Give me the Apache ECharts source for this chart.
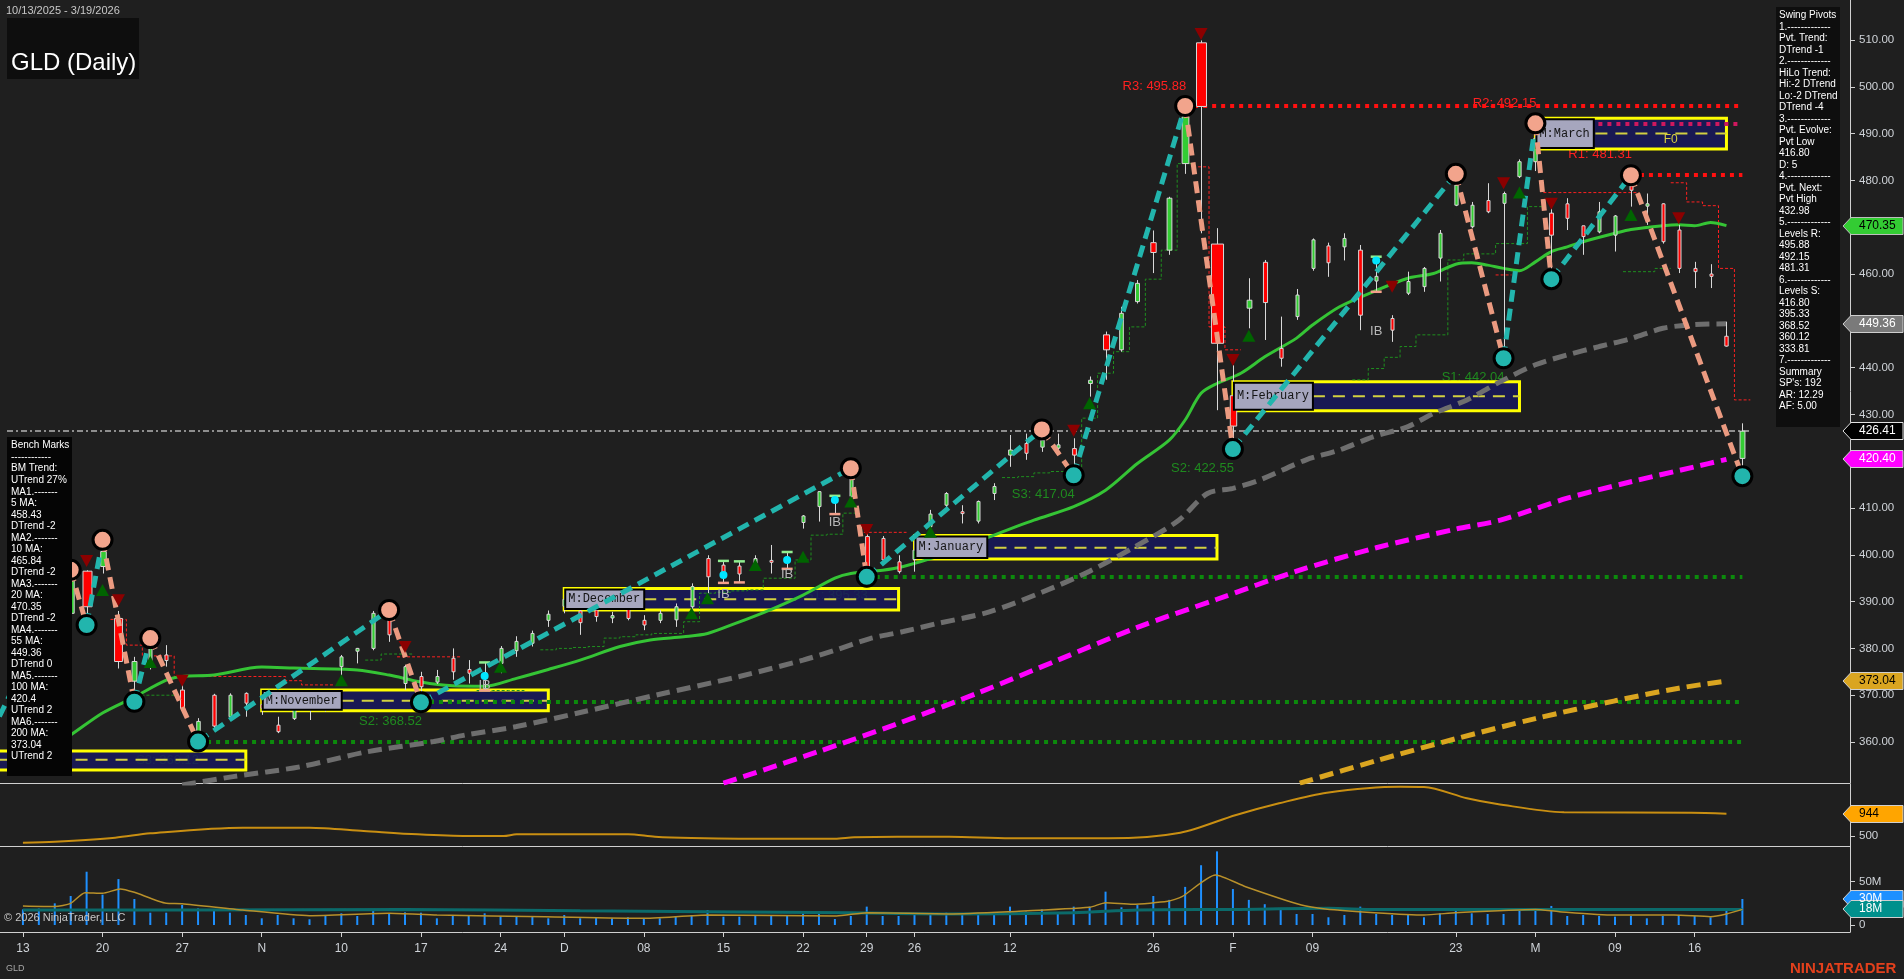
<!DOCTYPE html>
<html>
<head>
<meta charset="utf-8">
<title>GLD (Daily)</title>
<script src="https://cdn.jsdelivr.net/npm/echarts@6.0.0/dist/echarts.min.js"></script>
<style>
html,body{margin:0;padding:0;background:#1f1f1f;overflow:hidden;}
#chart{width:1904px;height:979px;}
</style>
</head>
<body>
<div id="chart"></div>
<script>
// ================= DATA =================
const dates = ['2025-10-13','2025-10-14','2025-10-15','2025-10-16','2025-10-17','2025-10-20','2025-10-21','2025-10-22','2025-10-23','2025-10-24','2025-10-27','2025-10-28','2025-10-29','2025-10-30','2025-10-31','2025-11-03','2025-11-04','2025-11-05','2025-11-06','2025-11-07','2025-11-10','2025-11-11','2025-11-12','2025-11-13','2025-11-14','2025-11-17','2025-11-18','2025-11-19','2025-11-20','2025-11-21','2025-11-24','2025-11-25','2025-11-26','2025-11-28','2025-12-01','2025-12-02','2025-12-03','2025-12-04','2025-12-05','2025-12-08','2025-12-09','2025-12-10','2025-12-11','2025-12-12','2025-12-15','2025-12-16','2025-12-17','2025-12-18','2025-12-19','2025-12-22','2025-12-23','2025-12-24','2025-12-26','2025-12-29','2025-12-30','2025-12-31','2026-01-02','2026-01-05','2026-01-06','2026-01-07','2026-01-08','2026-01-09','2026-01-12','2026-01-13','2026-01-14','2026-01-15','2026-01-16','2026-01-20','2026-01-21','2026-01-22','2026-01-23','2026-01-26','2026-01-27','2026-01-28','2026-01-29','2026-01-30','2026-02-02','2026-02-03','2026-02-04','2026-02-05','2026-02-06','2026-02-09','2026-02-10','2026-02-11','2026-02-12','2026-02-13','2026-02-17','2026-02-18','2026-02-19','2026-02-20','2026-02-23','2026-02-24','2026-02-25','2026-02-26','2026-02-27','2026-03-02','2026-03-03','2026-03-04','2026-03-05','2026-03-06','2026-03-09','2026-03-10','2026-03-11','2026-03-12','2026-03-13','2026-03-16','2026-03-17','2026-03-18','2026-03-19'];

const openP = [370.5,377.0,380.0,387.5,396.5,397.5,386.4,373.0,376.5,378.6,
371.1,362.2,370.0,365.4,370.4,368.0,363.6,365.0,367.0,368.5,
376.1,379.4,380.0,386.4,372.5,374.0,372.8,377.9,375.5,374.8,
376.8,379.5,381.1,386.0,389.0,388.0,388.2,386.5,388.9,386.0,
386.0,386.1,388.9,399.2,397.8,397.6,398.2,398.8,399.5,406.9,
410.3,411.8,412.5,403.9,403.5,398.5,399.0,406.0,410.6,409.2,
407.2,413.1,421.3,423.8,423.0,422.8,422.7,436.6,447.0,443.8,
454.1,466.7,465.1,483.6,509.4,466.4,434.0,452.7,462.5,444.1,
450.9,461.2,466.0,465.8,465.1,458.5,450.5,455.9,457.3,463.4,
474.7,470.1,475.7,475.1,480.8,484.0,473.0,475.0,470.3,469.0,
468.3,478.8,474.5,475.0,469.4,461.2,460.0,446.7,420.6];
const highP = [375.5,381.0,385.0,396.8,396.7,403.2,388.0,378.2,382.2,380.7,
372.5,365.1,370.3,370.4,370.6,370.5,365.4,369.0,370.0,370.0,
378.6,380.1,388.0,388.2,376.5,375.0,375.4,380.0,377.5,377.0,
380.5,382.6,383.8,388.1,391.5,389.5,388.9,387.8,389.6,387.1,
388.2,389.6,393.9,399.9,398.7,398.6,399.9,402.1,400.6,408.5,
413.5,412.6,418.5,404.5,404.0,399.9,403.0,409.6,413.4,410.6,
411.6,415.3,425.6,425.9,426.8,425.9,424.9,438.1,447.7,453.0,
458.7,469.3,476.5,495.9,509.9,469.8,440.5,459.1,463.0,450.9,
456.8,467.6,466.7,468.7,466.2,463.7,451.2,460.5,461.5,469.4,
481.4,475.4,479.4,477.6,484.5,492.2,474.5,476.2,470.3,475.4,
472.6,481.1,477.2,475.1,470.5,462.6,462.1,449.8,428.1];
const lowP = [369.5,373.0,378.5,386.5,385.0,396.0,375.7,368.6,375.5,376.1,
366.8,360.1,362.9,364.7,365.4,365.8,361.9,364.7,364.7,366.5,
373.6,376.8,379.6,381.4,371.1,368.5,372.4,373.3,372.5,371.0,
374.7,378.2,380.4,384.6,387.5,382.9,385.7,385.4,386.0,383.9,
385.4,384.6,387.5,391.8,394.0,394.1,397.5,396.0,397.0,405.6,
407.1,408.7,411.5,395.3,398.5,396.0,396.4,404.9,410.2,406.7,
406.7,411.7,418.8,420.3,422.0,422.4,417.0,433.8,437.4,443.4,
453.7,460.2,464.1,481.4,468.7,430.9,422.6,448.4,445.9,440.2,
450.2,460.7,459.4,462.9,448.0,456.2,445.5,455.5,456.2,458.4,
474.5,469.8,473.0,442.0,480.5,482.0,458.9,469.4,464.1,468.7,
464.8,474.4,470.5,466.5,460.2,457.0,457.0,444.5,416.8];
const closeP = [375.0,378.5,384.5,395.5,388.9,400.7,377.2,377.2,380.5,377.4,
367.2,364.4,363.4,370.0,368.3,367.2,362.2,367.8,369.3,369.3,
378.2,380.0,387.5,382.9,376.1,371.8,374.0,375.0,374.7,374.0,
380.0,381.5,383.2,387.3,390.5,385.5,386.8,387.0,386.4,385.0,
387.5,388.9,393.2,395.3,395.7,395.9,399.2,398.4,398.5,408.3,
413.5,411.2,417.0,396.0,398.9,396.4,401.0,408.7,413.1,408.8,
411.4,414.6,422.4,421.7,424.5,423.5,421.3,437.3,443.8,451.6,
458.0,464.6,476.2,493.6,495.8,445.2,427.5,454.4,453.9,442.0,
455.5,467.3,462.4,467.6,451.2,459.5,448.0,458.4,461.2,468.7,
479.0,474.7,473.3,477.2,484.0,489.0,468.3,471.9,468.0,473.3,
472.4,477.9,475.0,466.9,461.2,460.5,459.5,444.6,426.41];
// volume in millions of shares
const volume = [18,19,25,33.5,61.5,35,53,30,14.2,14.2,
23.1,19.2,18.1,14.2,11.5,7.7,11.5,7.7,6.6,10.4,
13.5,10.4,16.6,13.5,14.6,14.2,7.7,10.4,10.4,13.5,
10.4,10.4,10.4,7.7,11.5,7.7,8.9,7.7,8.9,6.9,
7.7,10.4,11.5,17.3,9.6,9.6,10.4,10.4,11.5,13.5,
14.2,6.9,10.4,21.2,10.4,10.4,13.5,13.5,14.2,11.5,
11.5,13.5,21.2,15.4,18,14.2,21.2,21.2,38.5,20.4,
23,33.5,29,44,69,85,41.5,29,24,17.3,
12.7,12.7,8.9,11.5,21.2,12.7,11.5,11.5,8.9,13.5,
17.3,13.5,12.7,12.7,17.3,18,22,10.4,11.5,10.4,
9.6,10.4,7.7,10.4,11.5,10.4,8.9,18,30];

// moving averages: [bar, value]
const ma20 = [[0,355],[1,357],[2,359.5],[3,361.5],[5,366.2],[7,369.6],[9,373.2],[10,374],[12,374.3],[15,376],[17,375.8],[21,375.4],[23,374.3],[25,372.8],[27,372],[29,371.9],[31,373.6],[33,375.5],[35,377.5],[37.5,380.4],[39.4,381.8],[41.5,382.5],[43,383.2],[44.8,385.4],[46.9,388.2],[49,391.4],[51,395],[52,396],[54,396.7],[55.3,397.5],[57.4,399.6],[59.9,402.8],[63.5,407.4],[66,410.3],[68,413.8],[70,419.5],[72,424.5],[73,428.8],[74,434.5],[75,436.6],[76.5,438.8],[78,442.3],[80,446.3],[81,449.1],[82.7,453],[84.8,456.2],[87,459.1],[88.6,460.1],[90,462.1],[91,462.4],[92,461.9],[93,461.2],[94,460.7],[95,462.6],[96,464.8],[97,465.8],[98,466.9],[100,468.7],[101,469.5],[103,470.3],[104,470.5],[105,470.3],[106,471],[107,470.35]];
const ma55 = [[10,350.8],[13.2,352.6],[17.4,354.7],[21.6,357.9],[25.8,360.1],[27.8,361.5],[31,363.3],[35,366.3],[40,370.2],[45,374.0],[49,377.5],[51,379.6],[53.2,382.1],[55.3,383.6],[57.4,385.3],[60.7,387.8],[64,392],[67,396.5],[70,402],[72.6,407.4],[74.4,413.1],[76,414.2],[77.7,416],[80.6,420.3],[82.7,422.4],[84.8,425.2],[87,427.4],[88.6,430.2],[90.7,433.1],[92.8,437],[95,440.6],[97,442.7],[99,444.5],[101,446.2],[103,448.4],[105,449.2],[107,449.36]];
const ma100 = [[44,351.2],[50,358],[55,364],[60,370.5],[65,377.5],[70,384.5],[75,390.5],[80,396.5],[85,401.5],[90,405.5],[92.8,407.4],[97,412.1],[101,415.6],[105,418.8],[107,420.40]];
const ma200 = [[80.2,351.2],[85,356],[90,360.7],[95,365],[100,368.8],[104,371.5],[107,373.04]];

// lower indicator panel
const indicator = [[0,367],[2,387],[5.8,466],[8,553],[13.8,665],[18,665],[21.4,600],[24.8,533],[27.9,500],[30.2,500],[31,533],[38,533],[39.7,487],[42,460],[45,447],[51,447],[52.2,474],[54.9,487],[58.2,487],[62,454],[68.2,454],[72.7,566],[76.2,918],[78.9,1151],[81.9,1362],[86.5,1481],[88,1475],[90.7,1250],[92.6,1137],[96.8,972],[104.8,964],[107,944]];
// volume averages
const volAvgFast = [[0,21.9],[2,21.2],[3,25],[3.9,37.3],[5,36.6],[6.1,41.6],[7,37.7],[9,25],[10,24.6],[13.8,17.3],[18,10.8],[23,13.5],[26,11.5],[32.8,9.6],[38.9,7.7],[43.1,11.5],[51.1,10.4],[53,14.2],[58.2,12.7],[62,15.4],[67,20.4],[68,25.8],[69.7,24],[71.9,27.3],[72.8,32.7],[74.9,57.7],[76.8,44.2],[80.3,23],[81.8,18.5],[84.9,14.2],[88,11.5],[90,14.2],[95,18],[96.5,15.4],[99.9,11.5],[103.7,11.5],[106,9.6],[107,12.7],[108,18]];
const volAvgSlow = [[0,17.3],[10,17.3],[24,18],[35,16.5],[43,15.4],[52,14],[58,12.7],[66,14.2],[70,17.3],[76,18],[82,19.2],[85,18],[96,18],[108,18]];

// swing pivots (zigzag)
const pivotBars   = [-2,3,4,5,7,8,11,23,25,52,53,64,66,73,76,90,93,95,96,101,108];
const pivotPrices = [361.8,396.8,385.0,403.2,368.6,382.2,360.1,388.2,368.5,418.5,395.3,426.8,417.0,495.9,422.6,481.4,442.0,492.2,458.9,481.1,416.8];

// support / resistance levels
const levelNames  = ['R3','R2','R1','S1','S2','S3','S1','S2','S3'];
const levelBars   = [73,95,101,93,76,66,53,25,11];
const levelValues = [495.88,492.15,481.31,442.04,422.55,417.04,395.33,368.52,360.12];
const levelLineEnd= [108,108,108,null,null,null,108,108,108];

// monthly boxes
const boxNames  = ['M:October','M:November','M:December','M:January','M:February','M:March'];
const boxStart  = [-8,15,34,56,76,95];
const boxEnd    = [14,33,55,75,94,107];
const boxTop    = [358.1,371.1,392.8,404.1,437.0,493.3];
const boxBottom = [354.0,366.7,388.2,399.1,430.8,486.7];
const boxMid    = [356.2,368.8,390.5,401.5,433.9,490.0];

// trailing stop steps [bar, value]
const greenStop = [[7,370],[8,370],[9,370],[22,377.5],[23,378.8],[24,378.8],[29,371],[30,371],[31,371],[33,379.7],[34,380],[35,380.2],[36,380.4],[37,382.2],[38,382.5],[39,382.9],[40,383.2],[41,383.2],[42,385.7],[43,391.8],[44,392],[45,392.3],[46,392.5],[47,395],[48,395],[49,398.9],[50,404.2],[51,404.4],[52,408.9],[62,416.5],[63,416.7],[64,417.5],[65,417.8],[66,417.8],[67,429.2],[68,438.8],[69,443.4],[70,448.7],[71,458.9],[72,465.1],[73,483.6],[84,437.4],[85,439.8],[86,442.2],[87,444.5],[88,447],[89,447],[90,463],[91,464.3],[92,464.3],[93,466.5],[94,466.5],[95,474.4],[101,460.5],[102,460.5],[103,461.2]];
const redStop = [[6,386.2],[7,380.7],[8,378.4],[9,378.4],[10,374],[11,374],[12,374],[13,374],[14,374],[15,374],[16,374],[17,373.1],[18,372.2],[19,372.2],[24,378.2],[25,378.2],[26,378.2],[27,378.2],[53,404.8],[54,404.8],[55,404.8],[74,482.9],[75,448.7],[76,443.8],[93,459.8],[96,477.4],[97,477.4],[98,477.4],[99,477.4],[100,477.4],[101,477.4],[104,479.5],[105,475.4],[106,474.6],[107,461.2],[108,433.1]];

// signal markers [bar, price]
const downMarks = [[4,398.7],[6,390.3],[10,373.1],[24,380.3],[53,405.3],[66,426.5],[74,511.3],[76,441.6],[86,457.3],[93,479.4],[96,475.0],[104,471.9]];
const upMarks = [[5,392.5],[8,377.1],[20,373.2],[30,376.1],[42,387.5],[43,390.7],[46,397.8],[49,399.6],[52,411.4],[57,404.9],[67,432.4],[77,446.8],[94,477.4],[101,472.6]];
const ibBars = [29,44,48,51,85];
const ibDot  = [374.1,395.7,398.9,411.7,462.9];
const ibText = [372.0,391.6,395.9,406.9,447.8];
const capBars = [29,44,45,48,51,85];

// axis ticks
const tickBars   = [0,5,10,15,20,25,30,34,39,44,49,53,56,62,71,76,81,90,95,100,105];
const tickLabels = ['13','20','27','N','10','17','24','D','08','15','22','29','26','12','26','F','09','23','M','09','16'];
const priceTicks = [360,370,380,390,400,410,430,440,460,480,490,500,510];

const swingLines = ['Swing Pivots','1.-------------','Pvt. Trend:','DTrend -1','2.-------------','HiLo Trend:','Hi:-2 DTrend','Lo:-2 DTrend','DTrend -4','3.-------------','Pvt. Evolve:','Pvt Low','416.80','D: 5','4.-------------','Pvt. Next:','Pvt High','432.98','5.-------------','Levels R:','495.88','492.15','481.31','6.-------------','Levels S:','416.80','395.33','368.52','360.12','333.81','7.-------------','Summary',"SP's: 192",'AR: 12.29','AF: 5.00'];
const benchLines = ['Bench Marks','------------','BM Trend:','UTrend 27%','MA1.-------','5 MA:','458.43','DTrend -2','MA2.-------','10 MA:','465.84','DTrend -2','MA3.-------','20 MA:','470.35','DTrend -2','MA4.-------','55 MA:','449.36','DTrend 0','MA5.-------','100 MA:','420.4','UTrend 2','MA6.-------','200 MA:','373.04','UTrend 2'];

// ================= CHART =================
const XMIN = -1.44, XMAX = 114.76;
const FONT = '"Liberation Sans", Arial, sans-serif';
const TEAL = '#22b5ad', SALMON = '#eb9a80';
const chart = echarts.init(document.getElementById('chart'), null, {renderer: 'canvas'});

function xAx(g, withLabels) {
  return {
    type: 'value', gridIndex: g, min: XMIN, max: XMAX,
    axisLine: {show: true, onZero: false, lineStyle: {color: '#d0d0d0', width: 1}},
    axisTick: withLabels ? {show: true, customValues: tickBars, length: 5, lineStyle: {color: '#d0d0d0'}} : {show: false},
    axisLabel: withLabels ? {show: true, customValues: tickBars, margin: 11, color: '#cfd3d8', fontSize: 12, fontFamily: FONT,
      formatter: v => { const k = tickBars.indexOf(Math.round(v)); return k >= 0 ? tickLabels[k] : ''; }} : {show: false},
    splitLine: {show: false}
  };
}
function yAx(g, min, max, ticks, fmt) {
  return {
    type: 'value', gridIndex: g, position: 'right', min: min, max: max,
    axisLine: {show: true, onZero: false, lineStyle: {color: '#d0d0d0', width: 1}},
    axisTick: {show: true, customValues: ticks, length: 5, lineStyle: {color: '#d0d0d0'}},
    axisLabel: {show: true, customValues: ticks, margin: 9, color: '#cfd3d8', fontSize: 11.5, fontFamily: FONT, formatter: fmt},
    splitLine: {show: false}
  };
}

function stepRuns(pairs) {
  const runs = []; let cur = null;
  pairs.forEach((p, k) => {
    const b = p[0], v = p[1];
    if (cur && b === pairs[k - 1][0] + 1) { cur.push([b - 0.5, v]); cur.push([b + 0.5, v]); }
    else { cur = [[b - 0.5, v], [b + 0.5, v]]; runs.push(cur); }
  });
  return runs.map(r => ({coords: r}));
}

const candleData = dates.map((d, i) => [i, openP[i], highP[i], lowP[i], closeP[i], volume[i]]);

const zigData = [];
for (let k = 0; k < pivotBars.length - 1; k++) {
  zigData.push({coords: [[pivotBars[k], pivotPrices[k]], [pivotBars[k + 1], pivotPrices[k + 1]]],
    lineStyle: {color: pivotPrices[k + 1] > pivotPrices[k] ? TEAL : SALMON}});
}
const pivotDots = [];
for (let k = 1; k < pivotBars.length; k++) {
  const high = pivotPrices[k] > pivotPrices[k - 1];
  pivotDots.push({value: [pivotBars[k], pivotPrices[k]], itemStyle: {color: high ? '#f2a48c' : TEAL}});
}

const levelLines = [];
levelNames.forEach((n, i) => {
  if (levelLineEnd[i] == null) return;
  let col = n[0] === 'R' ? '#ff1010' : '#0c8a0c';
  if (n === 'R2') col = '#d0185e';
  levelLines.push({coords: [[levelBars[i], levelValues[i]], [levelLineEnd[i], levelValues[i]]], lineStyle: {color: col}});
});

const boxData = boxNames.map((n, i) => [boxStart[i], boxEnd[i], boxTop[i], boxBottom[i], boxMid[i]]);

const option = {
  backgroundColor: '#1f1f1f',
  animation: false,
  grid: [
    {left: 0, right: 54, top: 0, height: 783},
    {left: 0, right: 54, top: 784, height: 62},
    {left: 0, right: 54, top: 846, height: 86}
  ],
  xAxis: [xAx(0, false), xAx(1, false), xAx(2, true)],
  yAxis: [
    yAx(0, 351.24, 518.55, priceTicks, v => v.toFixed(2)),
    yAx(1, 301, 1534.8, [500], v => String(v)),
    yAx(2, -8.1, 91.2, [0, 50], v => v === 0 ? '0' : v + 'M')
  ],
  series: [
    // level text (under boxes)
    {type: 'custom', name: 'levelText', xAxisIndex: 0, yAxisIndex: 0, z: 1, clip: true,
      data: levelNames.map((n, i) => [levelBars[i], levelValues[i], i]),
      renderItem: (params, api) => {
        const i = api.value(2);
        const p = api.coord([api.value(0), api.value(1)]);
        const isR = levelNames[i][0] === 'R';
        return {type: 'text', x: p[0] + 1, y: p[1] + (isR ? -20 : 19),
          style: {text: levelNames[i] + ': ' + levelValues[i].toFixed(2), fill: isR ? '#ff2020' : '#1f8a1f',
            font: '13px ' + FONT, align: 'right', verticalAlign: 'middle'}};
      }},
    // month boxes
    {type: 'custom', name: 'boxes', xAxisIndex: 0, yAxisIndex: 0, z: 2, clip: true, data: boxData,
      renderItem: (params, api) => {
        const a = api.coord([api.value(0), api.value(2)]);
        const b = api.coord([api.value(1), api.value(3)]);
        const m = api.coord([api.value(0), api.value(4)]);
        return {type: 'group', children: [
          {type: 'rect', shape: {x: a[0], y: a[1], width: b[0] - a[0], height: b[1] - a[1]},
            style: {fill: 'rgba(24,24,92,0.86)', stroke: '#ffff00', lineWidth: 3}},
          {type: 'line', shape: {x1: a[0], y1: m[1], x2: b[0], y2: m[1]},
            style: {stroke: '#d2d040', lineWidth: 2, lineDash: [12, 8]}}
        ]};
      }},
    // moving averages
    {type: 'line', name: 'MA55', xAxisIndex: 0, yAxisIndex: 0, z: 3, data: ma55, showSymbol: false, smooth: 0.3,
      lineStyle: {color: '#6e6e6e', width: 5, type: [14, 7]}},
    {type: 'line', name: 'MA100', xAxisIndex: 0, yAxisIndex: 0, z: 3, data: ma100, showSymbol: false, smooth: 0.3,
      lineStyle: {color: '#ff00ff', width: 5, type: [14, 7]}},
    {type: 'line', name: 'MA200', xAxisIndex: 0, yAxisIndex: 0, z: 3, data: ma200, showSymbol: false, smooth: 0.3,
      lineStyle: {color: '#daa520', width: 5, type: [14, 7]}},
    {type: 'line', name: 'MA20', xAxisIndex: 0, yAxisIndex: 0, z: 3, data: ma20, showSymbol: false, smooth: 0.3,
      lineStyle: {color: '#35c435', width: 3}},
    // trailing stops
    {type: 'lines', name: 'greenStop', coordinateSystem: 'cartesian2d', xAxisIndex: 0, yAxisIndex: 0, z: 3, polyline: true,
      data: stepRuns(greenStop), lineStyle: {color: '#1f8f1f', width: 1, type: [3, 2], opacity: 1}},
    {type: 'lines', name: 'redStop', coordinateSystem: 'cartesian2d', xAxisIndex: 0, yAxisIndex: 0, z: 3, polyline: true,
      data: stepRuns(redStop), lineStyle: {color: '#ff2020', width: 1, type: [3, 2], opacity: 1}},
    // level lines
    {type: 'lines', name: 'levels', coordinateSystem: 'cartesian2d', xAxisIndex: 0, yAxisIndex: 0, z: 3,
      data: levelLines, lineStyle: {width: 4, type: [4, 5], opacity: 1}},
    // current price line
    {type: 'lines', name: 'last', coordinateSystem: 'cartesian2d', xAxisIndex: 0, yAxisIndex: 0, z: 3,
      data: [{coords: [[-1, closeP[closeP.length - 1]], [108.5, closeP[closeP.length - 1]]]}],
      lineStyle: {color: '#8e8e8e', width: 2, type: [6, 3, 2, 3], opacity: 1}},
    // candles
    {type: 'custom', name: 'GLD', xAxisIndex: 0, yAxisIndex: 0, z: 4, clip: true, data: candleData,
      renderItem: (params, api) => {
        const x = api.value(0), o = api.value(1), h = api.value(2), l = api.value(3), c = api.value(4), v = api.value(5);
        const pO = api.coord([x, o]), pC = api.coord([x, c]), pH = api.coord([x, h]), pL = api.coord([x, l]);
        const w = Math.max(3, 1 + v * 0.13);
        const top = Math.min(pO[1], pC[1]), bot = Math.max(pO[1], pC[1]);
        const cx = Math.round(pO[0]) + 0.5;
        return {type: 'group', children: [
          {type: 'line', shape: {x1: cx, y1: pH[1], x2: cx, y2: pL[1]}, style: {stroke: '#d8d8d8', lineWidth: 1}},
          {type: 'rect', shape: {x: cx - w / 2, y: top, width: w, height: Math.max(bot - top, 1)},
            style: {fill: c >= o ? '#33cc33' : '#ff0000', stroke: '#d8d8d8', lineWidth: 1}}
        ]};
      }},
    // inside-bar caps
    {type: 'scatter', name: 'capHigh', xAxisIndex: 0, yAxisIndex: 0, z: 5, symbol: 'rect', symbolSize: [11, 2.5],
      data: capBars.map(b => [b, highP[b]]), itemStyle: {color: '#90ee90', opacity: 1}},
    {type: 'scatter', name: 'capLow', xAxisIndex: 0, yAxisIndex: 0, z: 5, symbol: 'rect', symbolSize: [11, 2.5],
      data: capBars.map(b => [b, lowP[b]]), itemStyle: {color: '#f4a08a', opacity: 1}},
    // box labels
    {type: 'custom', name: 'boxLabels', xAxisIndex: 0, yAxisIndex: 0, z: 6, clip: true, data: boxData,
      renderItem: (params, api) => {
        const a = api.coord([api.value(0), api.value(2)]);
        const b = api.coord([api.value(1), api.value(3)]);
        const name = boxNames[params.dataIndex];
        const tw = name.length * 7.2 + 7;
        return {type: 'group', children: [
          {type: 'rect', shape: {x: a[0] + 1, y: a[1] + 1, width: tw, height: b[1] - a[1] - 2},
            style: {fill: '#a6a6be', stroke: '#000', lineWidth: 2}},
          {type: 'text', x: a[0] + 4, y: (a[1] + b[1]) / 2,
            style: {text: name, fill: '#151515', font: '12px "Liberation Mono", monospace', verticalAlign: 'middle'}}
        ]};
      }},
    // zigzag
    {type: 'lines', name: 'zigzag', coordinateSystem: 'cartesian2d', xAxisIndex: 0, yAxisIndex: 0, z: 7,
      data: zigData, lineStyle: {width: 5, type: [12, 7], opacity: 1}},
    {type: 'scatter', name: 'pivots', xAxisIndex: 0, yAxisIndex: 0, z: 8, data: pivotDots, symbolSize: 19,
      itemStyle: {borderColor: '#000', borderWidth: 3, opacity: 1}},
    // markers
    {type: 'scatter', name: 'down', xAxisIndex: 0, yAxisIndex: 0, z: 8, data: downMarks, symbol: 'triangle',
      symbolRotate: 180, symbolSize: [13, 12], itemStyle: {color: '#8b0000', opacity: 1}},
    {type: 'scatter', name: 'up', xAxisIndex: 0, yAxisIndex: 0, z: 8, data: upMarks, symbol: 'triangle',
      symbolSize: [13, 12], itemStyle: {color: '#006400', opacity: 1}},
    {type: 'scatter', name: 'ibDot', xAxisIndex: 0, yAxisIndex: 0, z: 8, data: ibBars.map((b, i) => [b, ibDot[i]]),
      symbolSize: 8, itemStyle: {color: '#00e5ff', opacity: 1}},
    {type: 'custom', name: 'ibText', xAxisIndex: 0, yAxisIndex: 0, z: 8, clip: true,
      data: ibBars.map((b, i) => [b, ibText[i]]),
      renderItem: (params, api) => {
        const p = api.coord([api.value(0), api.value(1)]);
        return {type: 'text', x: p[0], y: p[1], style: {text: 'IB', fill: '#b8b8b8', font: '13px ' + FONT, align: 'center', verticalAlign: 'middle'}};
      }},
    // indicator panel
    {type: 'line', name: 'ind', xAxisIndex: 1, yAxisIndex: 1, data: indicator, showSymbol: false, smooth: 0.3,
      lineStyle: {color: '#c98f12', width: 2}},
    // volume
    {type: 'bar', name: 'vol', xAxisIndex: 2, yAxisIndex: 2, data: volume.map((v, i) => [i, v]), barWidth: 2,
      itemStyle: {color: '#1e90ff'}},
    {type: 'line', name: 'volSlow', xAxisIndex: 2, yAxisIndex: 2, data: volAvgSlow, showSymbol: false, smooth: 0.3,
      lineStyle: {color: '#0b6a6a', width: 3}},
    {type: 'line', name: 'volFast', xAxisIndex: 2, yAxisIndex: 2, data: volAvgFast, showSymbol: false, smooth: 0.2,
      lineStyle: {color: '#b8902a', width: 1.5}}
  ]
};
chart.setOption(option);

// ---------- overlay graphics (panels, tags) ----------
function yPix(axis, v) { return chart.convertToPixel({yAxisIndex: axis}, v); }
const graphics = [];
function txt(x, y, s, fill, font, z) {
  graphics.push({type: 'text', x: x, y: y, z: z || 101, style: {text: s, fill: fill, font: font, verticalAlign: 'middle'}});
}
function tag(axis, value, text, fill, color, stroke) {
  const y = Math.round(yPix(axis, value));
  graphics.push({type: 'polygon', z: 120, shape: {points: [[1843, y], [1851, y - 8.5], [1903, y - 8.5], [1903, y + 8.5], [1851, y + 8.5]]},
    style: {fill: fill, stroke: stroke, lineWidth: 1}});
  graphics.push({type: 'text', x: 1859, y: y, z: 121, style: {text: text, fill: color, font: '12px ' + FONT, verticalAlign: 'middle'}});
}

// header
txt(6, 11, '10/13/2025 - 3/19/2026', '#c8c8c8', '11px ' + FONT);
graphics.push({type: 'rect', z: 100, shape: {x: 7, y: 18, width: 132, height: 61}, style: {fill: '#0e0e0e'}});
txt(11, 63, 'GLD (Daily)', '#ffffff', '24px ' + FONT);
// swing pivots panel
graphics.push({type: 'rect', z: 100, shape: {x: 1776, y: 7, width: 64, height: 420}, style: {fill: '#0e0e0e'}});
swingLines.forEach((s, i) => txt(1779, 15.7 + i * 11.5, s, '#ffffff', '10px ' + FONT));
// bench marks panel
graphics.push({type: 'rect', z: 100, shape: {x: 7, y: 437, width: 65, height: 339}, style: {fill: '#050505'}});
benchLines.forEach((s, i) => txt(11, 445.7 + i * 11.52, s, '#ffffff', '10px ' + FONT));
// footer texts
txt(4, 918, '\u00a9 2026 NinjaTrader, LLC', '#c8c8c8', '11px ' + FONT);
txt(6, 969, 'GLD', '#a8a8a8', '9px ' + FONT);
txt(1790, 969, 'NINJATRADER', '#e2401c', 'bold 15px ' + FONT);
// F0 label in March box
const f0 = chart.convertToPixel({xAxisIndex: 0, yAxisIndex: 0}, [103.5, 488.6]);
graphics.push({type: 'text', x: f0[0], y: f0[1], z: 9, style: {text: 'F0', fill: '#d8d040', font: '12px ' + FONT, align: 'center', verticalAlign: 'middle'}});

// right axis value tags
const last = a => a[a.length - 1][1];
tag(0, last(ma20), last(ma20).toFixed(2), '#33cc33', '#000', '#bdbdbd');
tag(0, last(ma55), last(ma55).toFixed(2), '#7a7a7a', '#fff', '#cfcfcf');
tag(0, closeP[closeP.length - 1], closeP[closeP.length - 1].toFixed(2), '#000', '#fff', '#e0e0e0');
tag(0, last(ma100), last(ma100).toFixed(2), '#ff00ff', '#fff', '#cfcfcf');
tag(0, last(ma200), last(ma200).toFixed(2), '#daa520', '#000', '#cfcfcf');
tag(1, last(indicator), String(Math.round(last(indicator))), '#ffa500', '#000', '#cfcfcf');
tag(2, volume[volume.length - 1], Math.round(volume[volume.length - 1]) + 'M', '#1e90ff', '#fff', '#cfcfcf');
tag(2, last(volAvgSlow), Math.round(last(volAvgSlow)) + 'M', '#00908c', '#fff', '#cfcfcf');

chart.setOption({graphic: graphics});
</script>
</body>
</html>
